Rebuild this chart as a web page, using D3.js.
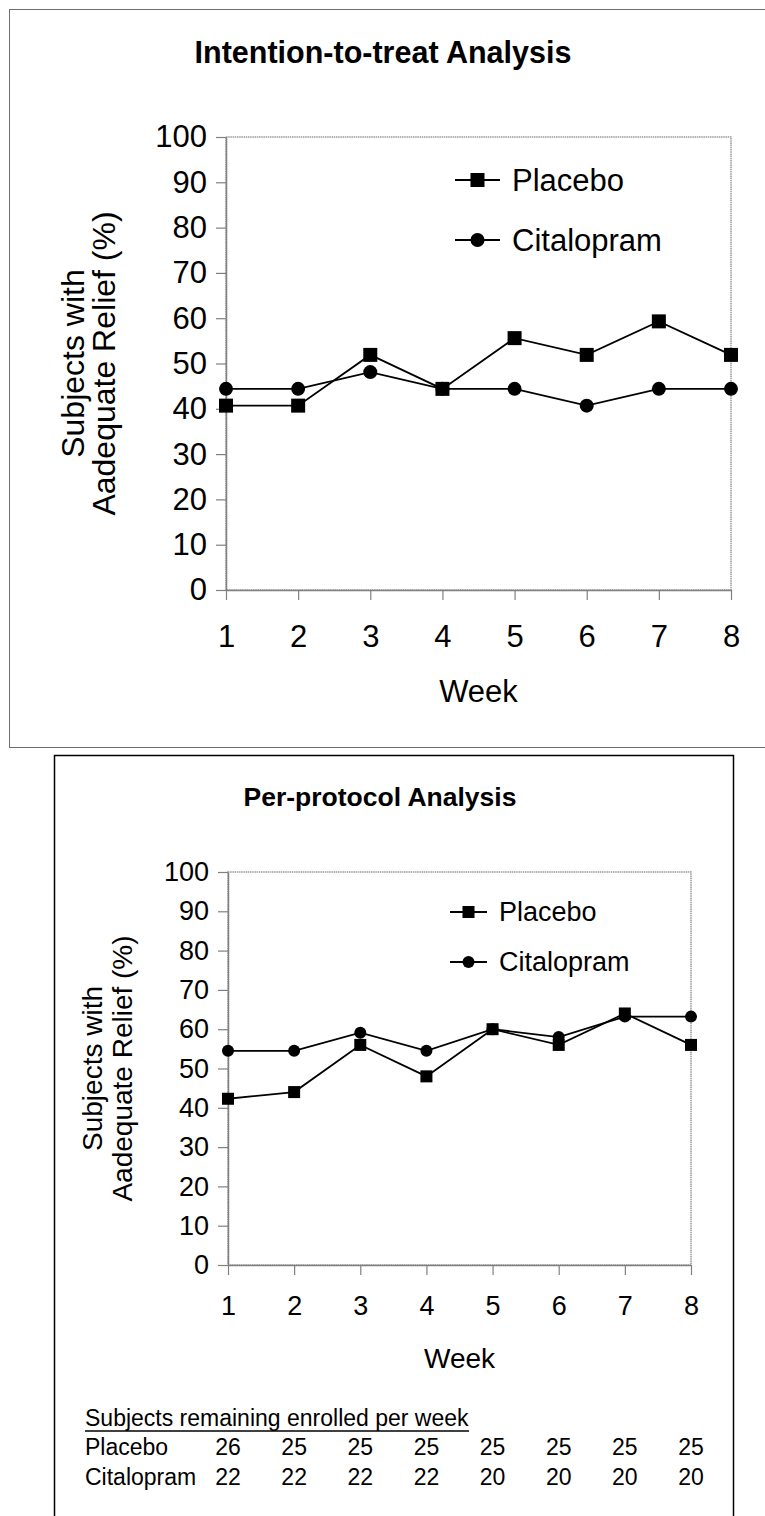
<!DOCTYPE html>
<html>
<head>
<meta charset="utf-8">
<script src="https://cdn.jsdelivr.net/npm/d3@7"></script>
<style>
  body { margin: 0; background: #fff; }
  svg { display: block; font-family: "Liberation Sans", Arial, sans-serif; }
</style>
</head>
<body>
<div id="chart"></div>
<script>
// Data (percent of subjects with adequate relief)
const weeks = [1, 2, 3, 4, 5, 6, 7, 8];
const yTicks = [0, 10, 20, 30, 40, 50, 60, 70, 80, 90, 100];
const seriesNames = ['Placebo', 'Citalopram'];

const ittPlacebo = [40.7, 40.7, 51.9, 44.4, 55.6, 51.9, 59.3, 51.9];
const ittCitalopram = [44.4, 44.4, 48.1, 44.4, 44.4, 40.7, 44.4, 44.4];

const ppPlacebo = [42.3, 44.0, 56.0, 48.0, 60.0, 56.0, 64.0, 56.0];
const ppCitalopram = [54.5, 54.5, 59.1, 54.5, 60.0, 58.0, 63.2, 63.2];

// Subjects remaining enrolled per week (per-protocol)
const enrolledPlacebo = [26, 25, 25, 25, 25, 25, 25, 25];
const enrolledCitalopram = [22, 22, 22, 22, 20, 20, 20, 20];

const W = 765, H = 1516;
const font = '"Liberation Sans", Arial, sans-serif';

const svg = d3.select('#chart')
    .append('svg')
    .attr('width', W)
    .attr('height', H);

// Panel frames
svg.append('rect')
    .attr('x', 9.5).attr('y', 9.5)
    .attr('width', 760).attr('height', 738)
    .attr('fill', 'none')
    .attr('stroke', '#6e6e6e')
    .attr('stroke-width', 1);

svg.append('path')
    .attr('d', 'M54.5,1520 V755.5 H733.5 V1520')
    .attr('fill', 'none')
    .attr('stroke', '#000')
    .attr('stroke-width', 1.5);

function drawPanel(cfg) {
    const x = d3.scaleLinear().domain([1, 8]).range([cfg.left, cfg.right]);
    const y = d3.scaleLinear().domain([0, 100]).range([cfg.bottom, cfg.top]);

    // Title
    svg.append('text')
        .attr('x', cfg.titleX)
        .attr('y', cfg.titleY)
        .attr('text-anchor', 'middle')
        .style('font-size', cfg.titleSize + 'px')
        .style('font-weight', 'bold')
        .text(cfg.title);

    // Plot area border (dotted grey)
    svg.append('rect')
        .attr('x', cfg.left).attr('y', cfg.top)
        .attr('width', cfg.right - cfg.left)
        .attr('height', cfg.bottom - cfg.top)
        .attr('fill', 'none')
        .attr('stroke', '#9a9a9a')
        .attr('stroke-width', 1.5)
        .attr('stroke-dasharray', '1.5,0.7');

    // Y axis
    const yAxis = svg.append('g')
        .attr('transform', `translate(${cfg.left},0)`)
        .call(d3.axisLeft(y).tickValues(yTicks).tickSize(10).tickPadding(9).tickSizeOuter(0));
    yAxis.select('.domain').attr('stroke', '#808080').attr('stroke-width', 1.5);
    yAxis.selectAll('.tick line').attr('stroke', '#808080').attr('stroke-width', 1.2);
    yAxis.selectAll('.tick text')
        .attr('fill', '#000')
        .style('font-family', font)
        .style('font-size', cfg.tickSize + 'px');

    // X axis
    const xAxis = svg.append('g')
        .attr('transform', `translate(0,${cfg.bottom})`)
        .call(d3.axisBottom(x).tickValues(weeks).tickFormat(d3.format('d'))
            .tickSize(10).tickPadding(cfg.xPad).tickSizeOuter(0));
    xAxis.select('.domain').attr('stroke', '#808080').attr('stroke-width', 1.5);
    xAxis.selectAll('.tick line').attr('stroke', '#808080').attr('stroke-width', 1.2);
    xAxis.selectAll('.tick text')
        .attr('fill', '#000')
        .style('font-family', font)
        .style('font-size', cfg.tickSize + 'px');

    // Axis titles
    svg.append('text')
        .attr('x', (cfg.left + cfg.right) / 2)
        .attr('y', cfg.weekY)
        .attr('text-anchor', 'middle')
        .style('font-size', cfg.weekSize + 'px')
        .text('Week');

    const yMid = (cfg.top + cfg.bottom) / 2;
    const yTitle = ['Subjects with', 'Aadequate Relief (%)'];
    yTitle.forEach((t, i) => {
        svg.append('text')
            .attr('transform', `translate(${cfg.yTitleX[i]},${yMid}) rotate(-90)`)
            .attr('text-anchor', 'middle')
            .style('font-size', cfg.yTitleSize + 'px')
            .text(t);
    });

    // Lines and markers
    const line = d3.line()
        .x((d, i) => x(weeks[i]))
        .y(d => y(d));

    [cfg.placebo, cfg.citalopram].forEach(vals => {
        svg.append('path')
            .datum(vals)
            .attr('d', line)
            .attr('fill', 'none')
            .attr('stroke', '#000')
            .attr('stroke-width', 1.8);
    });

    // Citalopram circles first, placebo squares on top
    svg.append('g').selectAll('circle')
        .data(cfg.citalopram)
        .join('circle')
        .attr('cx', (d, i) => x(weeks[i]))
        .attr('cy', d => y(d))
        .attr('r', cfg.circleR)
        .attr('fill', '#000');

    svg.append('g').selectAll('rect')
        .data(cfg.placebo)
        .join('rect')
        .attr('x', (d, i) => x(weeks[i]) - cfg.sq / 2)
        .attr('y', d => y(d) - cfg.sq / 2)
        .attr('width', cfg.sq)
        .attr('height', cfg.sq)
        .attr('fill', '#000');

    // Legend
    seriesNames.forEach((name, i) => {
        const ly = cfg.legendY[i];
        const g = svg.append('g');
        g.append('line')
            .attr('x1', cfg.legendX).attr('x2', cfg.legendX + cfg.legendLen)
            .attr('y1', ly).attr('y2', ly)
            .attr('stroke', '#000').attr('stroke-width', 1.8);
        const cx = cfg.legendX + cfg.legendLen / 2;
        if (i === 0) {
            g.append('rect')
                .attr('x', cx - cfg.sq / 2).attr('y', ly - cfg.sq / 2)
                .attr('width', cfg.sq).attr('height', cfg.sq)
                .attr('fill', '#000');
        } else {
            g.append('circle')
                .attr('cx', cx).attr('cy', ly).attr('r', cfg.circleR)
                .attr('fill', '#000');
        }
        g.append('text')
            .attr('x', cfg.legendX + cfg.legendLen + 12)
            .attr('y', ly)
            .attr('dy', '0.35em')
            .style('font-size', cfg.legendSize + 'px')
            .text(name);
    });

    return x;
}

// Top panel
drawPanel({
    title: 'Intention-to-treat Analysis', titleX: 383, titleY: 63, titleSize: 30.5,
    left: 226, right: 731, top: 137, bottom: 590,
    tickSize: 31, xPad: 25, weekY: 702, weekSize: 31,
    yTitleX: [84, 115], yTitleSize: 32,
    placebo: ittPlacebo, citalopram: ittCitalopram,
    sq: 14, circleR: 7,
    legendX: 455, legendLen: 45, legendY: [180, 240], legendSize: 31
});

// Bottom panel
const xb = drawPanel({
    title: 'Per-protocol Analysis', titleX: 380, titleY: 806, titleSize: 26.5,
    left: 228, right: 691, top: 872, bottom: 1265,
    tickSize: 27, xPad: 21, weekY: 1368, weekSize: 28,
    yTitleX: [102, 132], yTitleSize: 28,
    placebo: ppPlacebo, citalopram: ppCitalopram,
    sq: 12, circleR: 6,
    legendX: 450, legendLen: 37, legendY: [912, 962], legendSize: 27
});

// Enrollment table under the bottom panel
const tableFont = 23;
const header = svg.append('text')
    .attr('x', 85).attr('y', 1426)
    .style('font-size', tableFont + 'px')
    .text('Subjects remaining enrolled per week');
const hb = header.node().getBBox();
svg.append('line')
    .attr('x1', hb.x).attr('x2', hb.x + hb.width)
    .attr('y1', 1431).attr('y2', 1431)
    .attr('stroke', '#000').attr('stroke-width', 1.3);

const rows = [
    {name: 'Placebo', vals: enrolledPlacebo, y: 1455},
    {name: 'Citalopram', vals: enrolledCitalopram, y: 1485}
];
rows.forEach(r => {
    svg.append('text')
        .attr('x', 85).attr('y', r.y)
        .style('font-size', tableFont + 'px')
        .text(r.name);
    svg.append('g').selectAll('text')
        .data(r.vals)
        .join('text')
        .attr('x', (d, i) => xb(weeks[i]))
        .attr('y', r.y)
        .attr('text-anchor', 'middle')
        .style('font-size', tableFont + 'px')
        .text(d => d);
});
</script>
</body>
</html>
